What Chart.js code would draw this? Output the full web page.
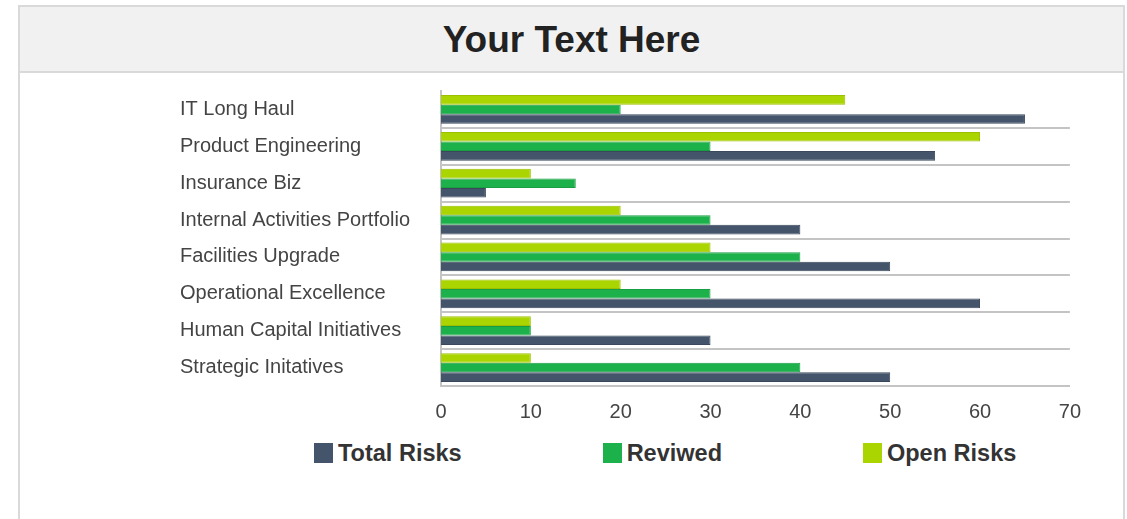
<!DOCTYPE html>
<html>
<head>
    <title>Your Text Here</title>
    <style>
        html, body {
            margin: 0;
            padding: 0;
            overflow: hidden;
            background: #fff;
            font-family: "Liberation Sans", Arial, sans-serif;
        }
        #card {
            position: absolute;
            left: 18px;
            top: 5px;
            width: 1107px;
            height: 600px;
            box-sizing: border-box;
            border: 2px solid #d9d9d9;
        }
        #card h1 {
            margin: 0;
            height: 64px;
            line-height: 66px;
            background: #f1f1f1;
            border-bottom: 2px solid #d9d9d9;
            text-align: center;
            font-size: 37px;
            font-weight: bold;
            color: #222;
        }
        #chart-container {
            position: absolute;
            left: 180px;
            top: 76px;
            width: 915px;
            height: 350px;
        }
        #legend {
            position: absolute;
            left: 314px;
            top: 443px;
            width: 800px;
            display: flex;
            white-space: nowrap;
            font-size: 23.5px;
            font-weight: bold;
            color: #333;
            line-height: 20px;
        }
        #legend span.item {
            display: flex;
            flex-shrink: 0;
            align-items: center;
            margin-right: 141px;
        }
        #legend span.box {
            display: inline-block;
            width: 19px;
            height: 20px;
            margin-right: 5px;
        }
    </style>
</head>
<body>
    <script src="https://cdn.jsdelivr.net/npm/chart.js"></script>

    <div id="card">
        <h1>Your Text Here</h1>
    </div>
    <div id="chart-container">
        <canvas id="riskChart"></canvas>
    </div>
    <div id="legend"></div>

    <script>
        const categories = [
            'IT Long Haul',
            'Product Engineering',
            'Insurance Biz',
            'Internal Activities Portfolio',
            'Facilities Upgrade',
            'Operational Excellence',
            'Human Capital Initiatives',
            'Strategic Initatives'
        ];
        const totalRisks = [65, 55, 5, 40, 50, 60, 30, 50];
        const reviwed    = [20, 30, 15, 30, 40, 30, 10, 40];
        const openRisks  = [45, 60, 10, 20, 30, 20, 10, 10];
        const xTicks = [0, 10, 20, 30, 40, 50, 60, 70];

        const colors = {
            total: '#44546a',
            reviwed: '#1db14b',
            open: '#abd500'
        };

        // legend order as in the picture
        const legendItems = [
            { label: 'Total Risks', color: colors.total },
            { label: 'Reviwed', color: colors.reviwed },
            { label: 'Open Risks', color: colors.open }
        ];

        const legendEl = document.getElementById('legend');
        legendItems.forEach(item => {
            const s = document.createElement('span');
            s.className = 'item';
            s.innerHTML = '<span class="box" style="background:' + item.color + '"></span>' + item.label;
            legendEl.appendChild(s);
        });

        // bars run top to bottom inside a category: open, reviwed, total
        const riskChart = new Chart('riskChart', {
            type: 'bar',
            data: {
                labels: categories,
                datasets: [
                    { label: 'Open Risks', data: openRisks, backgroundColor: colors.open, borderColor: '#9cc000' },
                    { label: 'Reviwed', data: reviwed, backgroundColor: colors.reviwed, borderColor: '#1a9e44' },
                    { label: 'Total Risks', data: totalRisks, backgroundColor: colors.total, borderColor: '#3a485c' }
                ]
            },
            options: {
                indexAxis: 'y',
                responsive: true,
                maintainAspectRatio: false,
                animation: false,
                datasets: {
                    bar: {
                        borderWidth: 1,
                        barPercentage: 1,
                        categoryPercentage: 0.78
                    }
                },
                layout: {
                    padding: { top: 8, left: 0, right: 0, bottom: 0 }
                },
                plugins: {
                    legend: { display: false },
                    tooltip: { enabled: false }
                },
                scales: {
                    x: {
                        min: 0,
                        max: 70,
                        afterBuildTicks: scale => {
                            scale.ticks = xTicks.map(v => ({ value: v }));
                        },
                        afterFit: scale => { scale.height = 40; },
                        grid: { display: false, drawTicks: false },
                        border: { display: true, color: '#c4c4c4', width: 2 },
                        ticks: {
                            padding: 14,
                            color: '#444',
                            font: { family: 'Liberation Sans', size: 20 }
                        }
                    },
                    y: {
                        afterFit: scale => { scale.width = 261; },
                        grid: {
                            drawTicks: false,
                            lineWidth: 2,
                            color: ctx => ctx.index === 0 ? 'rgba(0,0,0,0)' : '#c4c4c4'
                        },
                        border: { display: true, color: '#c4c4c4', width: 2 },
                        ticks: {
                            crossAlign: 'far',
                            color: '#444',
                            font: { family: 'Liberation Sans', size: 20 }
                        }
                    }
                }
            }
        });
    </script>
</body>
</html>
